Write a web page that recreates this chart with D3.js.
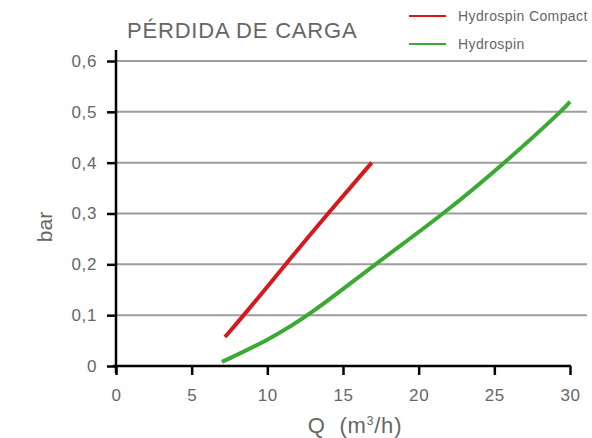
<!DOCTYPE html>
<html>
<head>
<meta charset="utf-8">
<script src="https://cdn.jsdelivr.net/npm/d3@7"></script>
<style>
  body { margin: 0; background: #fff; }
  svg { display: block; font-family: "Liberation Sans", Arial, sans-serif; }
</style>
</head>
<body>
<svg id="chart" width="592" height="438"></svg>
<script>
const xTicks = [0, 5, 10, 15, 20, 25, 30];
const yTicks = [0, 0.1, 0.2, 0.3, 0.4, 0.5, 0.6];

// Q (m3/h), bar
const compactQ = [7.2, 8.6, 11.2, 14.0, 16.9];
const compactBar = [0.057, 0.105, 0.2, 0.3, 0.4];

const hydroQ = [7.0, 10, 12.8, 17.1, 21.7, 25.7, 29.4, 30];
const hydroBar = [0.008, 0.05, 0.1, 0.2, 0.3, 0.4, 0.5, 0.52];

const seriesNames = ["Hydrospin Compact", "Hydrospin"];
const seriesColors = ["#d7191c", "#3aaa35"];

const svg = d3.select("#chart");
const textColor = "#666";

const x = d3.scaleLinear().domain([0, 30]).range([116, 570]);
const y = d3.scaleLinear().domain([0, 0.6]).range([366, 61]);

// grid
svg.append("g")
  .selectAll("line")
  .data(yTicks.filter(d => d > 0))
  .enter()
  .append("line")
  .attr("x1", x(0))
  .attr("x2", 587)
  .attr("y1", d => y(d))
  .attr("y2", d => y(d))
  .attr("stroke", "#9d9d9d")
  .attr("stroke-width", 2);

// axes
const fmt = d => d === 0 ? "0" : d3.format(".1f")(d).replace(".", ",");

const yAxis = svg.append("g")
  .attr("transform", `translate(${x(0)},0)`)
  .call(d3.axisLeft(y).tickValues(yTicks).tickFormat(fmt).tickSize(9).tickPadding(10));
yAxis.select(".domain").remove();
yAxis.selectAll(".tick line").attr("stroke", "#000").attr("stroke-width", 2.5);
yAxis.selectAll("text")
  .attr("fill", textColor)
  .style("font-size", "17px")
  .style("letter-spacing", "0.6px");
svg.append("line")
  .attr("x1", x(0)).attr("x2", x(0))
  .attr("y1", 50).attr("y2", 373)
  .attr("stroke", "#000").attr("stroke-width", 2.5);

const xAxis = svg.append("g")
  .attr("transform", `translate(0,${y(0)})`)
  .call(d3.axisBottom(x).tickValues(xTicks).tickSize(9).tickPadding(14));
xAxis.select(".domain").remove();
xAxis.selectAll(".tick line").attr("stroke", "#000").attr("stroke-width", 2.5);
xAxis.selectAll("text")
  .attr("fill", textColor)
  .style("font-size", "17px")
  .style("letter-spacing", "0.6px");
svg.append("line")
  .attr("x1", 113).attr("x2", x(30) + 1)
  .attr("y1", y(0)).attr("y2", y(0))
  .attr("stroke", "#000").attr("stroke-width", 2.5);

// curves
const line = d3.line()
  .x(d => x(d[0]))
  .y(d => y(d[1]))
  .curve(d3.curveBasis);

const series = [
  d3.zip(compactQ, compactBar),
  d3.zip(hydroQ, hydroBar)
];

svg.selectAll(".curve")
  .data(series)
  .enter()
  .append("path")
  .attr("class", "curve")
  .attr("d", line)
  .attr("fill", "none")
  .attr("stroke", (d, i) => seriesColors[i])
  .attr("stroke-width", 4);

// title
svg.append("text")
  .attr("x", 127)
  .attr("y", 38)
  .attr("fill", textColor)
  .style("font-size", "22px")
  .style("letter-spacing", "0.8px")
  .text("PÉRDIDA DE CARGA");

// axis titles
svg.append("text")
  .attr("x", 355)
  .attr("y", 433)
  .attr("text-anchor", "middle")
  .attr("fill", textColor)
  .style("font-size", "22px")
  .style("letter-spacing", "0.8px")
  .html("Q&#160;&#160;(m<tspan font-size='12px' dy='-8'>3</tspan><tspan dy='8'>/h)</tspan>");

svg.append("text")
  .attr("transform", "translate(52,227) rotate(-90)")
  .attr("text-anchor", "middle")
  .attr("fill", textColor)
  .style("font-size", "21px")
  .text("bar");

// legend
const legend = svg.append("g");
seriesNames.forEach((name, i) => {
  const ly = 16 + i * 28;
  legend.append("line")
    .attr("x1", 409).attr("x2", 446)
    .attr("y1", ly).attr("y2", ly)
    .attr("stroke", seriesColors[i])
    .attr("stroke-width", 2);
  legend.append("text")
    .attr("x", 458)
    .attr("y", ly + 5)
    .attr("fill", textColor)
    .style("font-size", "14px")
    .style("letter-spacing", "0.4px")
    .text(name);
});
</script>
</body>
</html>
